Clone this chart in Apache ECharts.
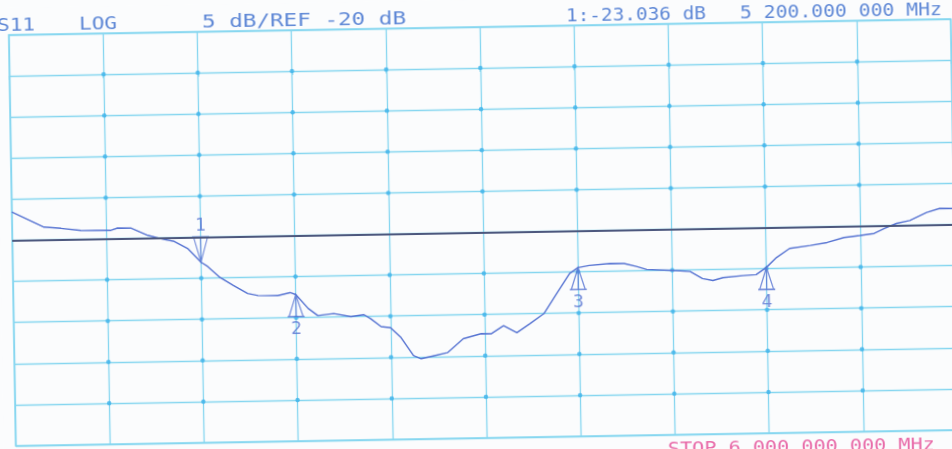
<!DOCTYPE html>
<html><head><meta charset="utf-8">
<script src="https://cdn.jsdelivr.net/npm/echarts@6/dist/echarts.min.js"></script>
<style>
html,body{margin:0;padding:0;width:952px;height:449px;overflow:hidden;background:#fbfcfd;}
#c{position:absolute;left:0;top:0;width:980px;height:480px;transform-origin:476px 224.5px;transform:rotate(-0.97deg);}
</style></head><body><div id="c"></div>
<script>
// ---- data ----
const freqMHz = [5000,5034,5052,5073,5105,5112,5126,5144,5161,5172,5186,5200,5207,5220,5234,5249,5260,5281,5294,5300,5313,5323,5340,5358,5372,5379,5390,5400,5411,5424,5432,5446,5460,5477,5496,5507,5520,5534,5548,5563,5577,5591,5600,5612,5634,5649,5662,5673,5705,5719,5732,5743,5754,5775,5789,5800,5811,5825,5847,5865,5883,5900,5915,5926,5939,5953,5971,5985,6000];
const s11dB = [-16.55,-18.45,-18.64,-18.93,-18.99,-18.72,-18.75,-19.67,-20.2,-20.46,-21.34,-23.04,-23.58,-24.95,-25.95,-26.95,-27.22,-27.27,-26.93,-27.18,-28.9,-29.78,-29.57,-29.98,-29.76,-30.26,-31.26,-31.4,-32.63,-34.85,-35.24,-34.9,-34.56,-32.89,-32.32,-32.34,-31.39,-32.27,-31.2,-30.01,-27.6,-25.18,-24.48,-24.24,-24.05,-24.07,-24.46,-24.85,-25.04,-25.18,-26.07,-26.33,-25.99,-25.79,-25.7,-24.85,-23.66,-22.59,-22.27,-21.94,-21.37,-21.15,-20.94,-20.34,-19.76,-19.43,-18.49,-18.02,-18.05];
const markerFreq = [5200,5300,5600,5800];
const markerDb = [-23.036,-27.18,-24.48,-24.85];
const markerNames = ['1','2','3','4'];
const markerDir = ['down','up','up','up'];
const xTicks = [5000,5100,5200,5300,5400,5500,5600,5700,5800,5900,6000];
const yTicks = [-45,-40,-35,-30,-25,-20,-15,-10,-5,0,5];
const refLevel = -20;
const headerTexts = ['S11','LOG','5 dB/REF -20 dB','1:-23.036 dB','5 200.000 000 MHz'];
const footerText = 'STOP 6 000.000 000 MHz';

// ---- style / layout ----
const GRID = '#86d6f0', DOT = '#3cb2ea', TRACE = '#5673d2', REF = '#4d587e', TXT = '#5f88d6', STOP = '#e86aa8';
const FONT = '18px "DejaVu Sans Mono"';
const headerLayout = [[0.5,18,38],[82.5,18,38],[205.5,18,204],[569.5,18,140],[743.5,18,202]];
const footerLayout = [664,453,267];
const ctx = document.createElement('canvas').getContext('2d');
ctx.font = FONT;
function sx(t, w){ return w / ctx.measureText(t).width; }
function textEl(t, x, y, w, color){
  return {type:'text', x:x, y:y, scaleX:sx(t,w), silent:true,
    style:{text:t, font:FONT, fill:color, align:'left', verticalAlign:'middle', textAlign:'left', textVerticalAlign:'middle'}};
}
const graphics = headerTexts.map((t,i)=>textEl(t, headerLayout[i][0], headerLayout[i][1], headerLayout[i][2], TXT));
graphics.push(textEl(footerText, footerLayout[0], footerLayout[1], footerLayout[2], STOP));

// grid intersection dots from tick arrays
const dots = [];
xTicks.slice(1,-1).forEach(f=>yTicks.slice(1,-1).forEach(d=>{ if(d!==refLevel) dots.push([f,d]); }));

const UP = 'path://M0,0 L-7,22 L7,22 Z M0,0 L0,22 M-8.5,22 L8.5,22';
const DOWN = 'path://M-8.5,0 L8.5,0 M-7,0 L7,0 L0,25 Z M0,0 L0,25';
const markerData = markerFreq.map((f,i)=>{
  const up = markerDir[i]==='up';
  return {value:[f, markerDb[i]], name:markerNames[i],
    symbol: up?UP:DOWN, symbolSize: up?[17,22]:[17,25], symbolOffset: up?[0,11]:[0,-12.5],
    label:{show:true, formatter:markerNames[i], position: up?'bottom':'top', distance: up?3:1}};
});

const chart = echarts.init(document.getElementById('c'), null, {renderer:'canvas'});
chart.setOption({
  backgroundColor:'#fbfcfd',
  animation:false,
  graphic:{elements:graphics},
  grid:{left:12, top:27, width:942, height:411, show:true, borderColor:GRID, borderWidth:1.5, backgroundColor:'transparent'},
  xAxis:{type:'value', position:'top', min:xTicks[0], max:xTicks[xTicks.length-1], interval:100,
    axisLabel:{show:false}, axisLine:{show:false},
    axisTick:{show:true, inside:true, length:4, lineStyle:{color:GRID, width:1.5}},
    splitLine:{show:true, lineStyle:{color:GRID, width:1.3}}},
  yAxis:{type:'value', min:yTicks[0], max:yTicks[yTicks.length-1], interval:5,
    axisLabel:{show:false}, axisLine:{show:false}, axisTick:{show:false},
    splitLine:{show:true, lineStyle:{color:GRID, width:1.3}}},
  series:[
    {type:'scatter', data:dots, symbol:'circle', symbolSize:4.5, itemStyle:{color:DOT}, silent:true, z:1},
    {type:'line', data:freqMHz.map((f,i)=>[f,s11dB[i]]), showSymbol:false, symbol:'none',
      lineStyle:{color:TRACE, width:1.4}, z:3,
      markLine:{silent:true, symbol:'none', label:{show:false}, lineStyle:{color:REF, width:1.8, type:'solid'},
        data:[{yAxis:refLevel}]}},
    {type:'scatter', data:markerData, itemStyle:{color:'rgba(0,0,0,0)', borderColor:TRACE, borderWidth:1.4}, z:4,
      label:{color:TRACE, fontFamily:'DejaVu Sans Mono', fontSize:18}}
  ]
});
</script></body></html>
